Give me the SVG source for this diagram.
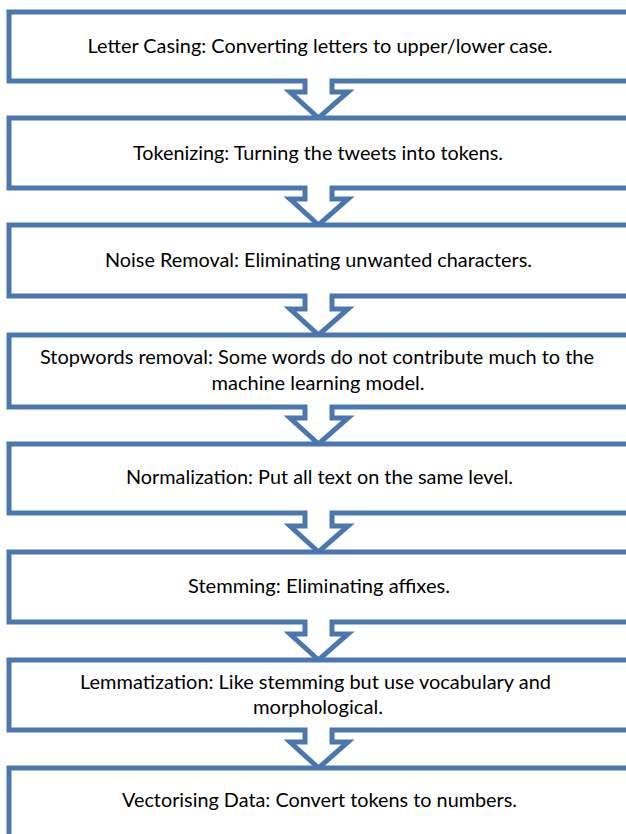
<svg xmlns="http://www.w3.org/2000/svg" width="626" height="834" viewBox="0 0 626 834">
  <style>
    .step { fill: #ffffff; stroke: #4A77B0; stroke-width: 5; stroke-linejoin: miter; }
    .label { font-family: Lato, "Liberation Sans", sans-serif; font-size: 20px; fill: #000000; text-anchor: middle; }
  </style>
  <rect width="626" height="834" fill="#ffffff"/>
  <!-- Each step is a down-arrow callout: a box whose bottom edge opens into an arrow pointing at the next box -->
  <g id="connectors">
    <!-- the arrows are part of each callout outline; their tips land on the next box's top edge -->
  </g>
  <g id="step1">
    <path class="step" d="M9 12 H640 V81 H332 V92 H348 L318.5 118 L290 92 H305 V81 H9 Z"/>
    <text class="label" x="320" y="53" textLength="465" lengthAdjust="spacingAndGlyphs">Letter Casing: Converting letters to upper/lower case.</text>
  </g>
  <g id="step2">
    <path class="step" d="M9 118 H640 V188 H332 V199 H348 L318.5 225 L290 199 H305 V188 H9 Z"/>
    <text class="label" x="318" y="160" textLength="370" lengthAdjust="spacingAndGlyphs">Tokenizing: Turning the tweets into tokens.</text>
  </g>
  <g id="step3">
    <path class="step" d="M9 225 H640 V296 H332 V309 H348 L318.5 335 L290 309 H305 V296 H9 Z"/>
    <text class="label" x="318.5" y="267" textLength="427" lengthAdjust="spacingAndGlyphs">Noise Removal: Eliminating unwanted characters.</text>
  </g>
  <g id="step4">
    <path class="step" d="M9 335 H640 V407 H332 V418 H348 L318.5 444 L290 418 H305 V407 H9 Z"/>
    <text class="label" x="317" y="364" textLength="554" lengthAdjust="spacingAndGlyphs">Stopwords removal: Some words do not contribute much to the</text>
    <text class="label" x="318" y="390" textLength="213" lengthAdjust="spacingAndGlyphs">machine learning model.</text>
  </g>
  <g id="step5">
    <path class="step" d="M9 444 H640 V513 H332 V526 H348 L318.5 552 L290 526 H305 V513 H9 Z"/>
    <text class="label" x="319.5" y="484" textLength="387" lengthAdjust="spacingAndGlyphs">Normalization: Put all text on the same level.</text>
  </g>
  <g id="step6">
    <path class="step" d="M9 552 H640 V622 H332 V634 H348 L318.5 660 L290 634 H305 V622 H9 Z"/>
    <text class="label" x="319" y="593" textLength="262" lengthAdjust="spacingAndGlyphs">Stemming: Eliminating affixes.</text>
  </g>
  <g id="step7">
    <path class="step" d="M9 660 H640 V730 H332 V742 H348 L318.5 768 L290 742 H305 V730 H9 Z"/>
    <text class="label" x="315.5" y="689" textLength="471" lengthAdjust="spacingAndGlyphs">Lemmatization: Like stemming but use vocabulary and</text>
    <text class="label" x="318" y="714" textLength="130" lengthAdjust="spacingAndGlyphs">morphological.</text>
  </g>
  <g id="step8">
    <path class="step" d="M9 768 H640 V860 H9 Z"/>
    <text class="label" x="319.5" y="807" textLength="395" lengthAdjust="spacingAndGlyphs">Vectorising Data: Convert tokens to numbers.</text>
  </g>
</svg>
